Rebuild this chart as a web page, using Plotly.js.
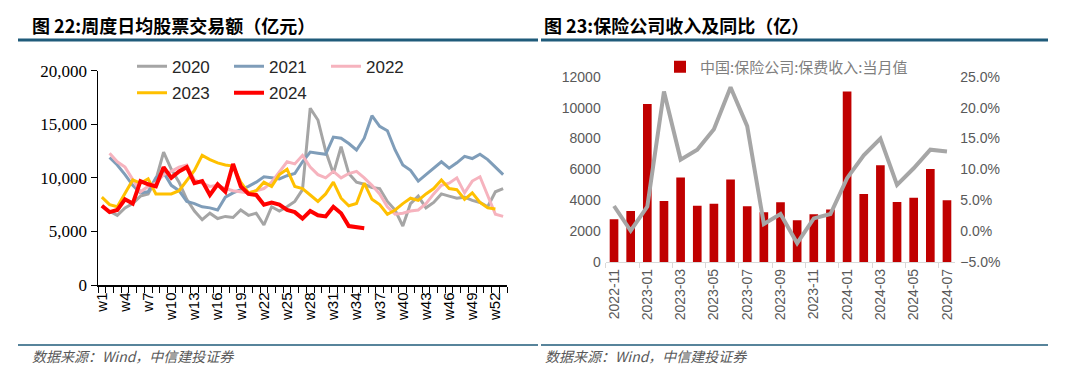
<!DOCTYPE html>
<html><head><meta charset="utf-8">
<script src="https://cdn.plot.ly/plotly-3.0.1.min.js"></script>
<style>html,body{margin:0;padding:0;background:#fff}#chart{width:1080px;height:375px}</style>
</head><body><div id="chart"></div>
<script>
// ---------- Left chart data (周度日均股票交易额, 亿元) ----------
const weekNums = [1,2,3,4,5,6,7,8,9,10,11,12,13,14,15,16,17,18,19,20,21,22,23,24,25,26,27,28,29,30,31,32,33,34,35,36,37,38,39,40,41,42,43,44,45,46,47,48,49,50,51,52,53];
const weekTickVals = [1,4,7,10,13,16,19,22,25,28,31,34,37,40,43,46,49,52];
const weekTickText = ['w1','w4','w7','w10','w13','w16','w19','w22','w25','w28','w31','w34','w37','w40','w43','w46','w49','w52'];
const y2020 = [null,6900,6500,7200,7600,8300,8500,9800,12400,10800,9600,8000,6900,6100,6700,6200,6400,6300,7000,6500,6700,5600,7300,6900,7300,7800,8900,16500,15400,12500,10400,12900,10400,9600,9400,9100,9000,7800,7000,5500,7600,8300,7200,7700,8500,8300,8100,8200,7900,7700,7300,8700,9000];
const y2021 = [null,11900,11200,10300,9300,8600,8700,10000,10500,9300,8800,7800,7600,7300,7200,7000,8200,8600,8900,9200,9600,10100,10000,9900,10200,10400,11500,12400,12300,12200,13800,13700,13200,12600,13700,15800,14800,14400,12600,11200,10700,9700,10300,10900,11500,10900,11400,12000,11800,12200,11700,11000,10300];
const y2022 = [null,12300,11500,11000,9800,8700,9200,9500,10300,10600,11000,11200,9800,9500,9200,9300,9000,8800,8700,8600,8800,9000,9600,10600,11500,11300,12100,11000,10300,10000,10600,10000,10400,10600,10000,9300,8500,7300,6600,6700,6900,7000,7600,8500,9300,9500,10000,8600,9700,10100,8300,6600,6400];
const y2023 = [8200,7500,7300,8500,9800,9500,9900,8500,8500,8500,8800,9800,10700,12100,11700,11400,11200,11100,9600,8600,8800,9600,9200,10300,10800,9200,9000,8400,7800,8500,9600,8100,7400,7600,9500,8000,7500,6600,7000,7600,8100,7900,8500,9000,9800,9000,8900,8000,8600,7700,7200,7100,null];
const y2024 = [7400,6800,7000,8000,7600,9700,9400,9200,11000,10000,10600,11000,9500,9700,8400,9400,8700,11300,9200,8500,8400,7500,7700,7500,7000,6800,6200,6900,6500,6400,7300,6700,5500,5400,5300];

// ---------- Right chart data (保险公司收入及同比, 亿) ----------
const months = ['2022-11','2022-12','2023-01','2023-02','2023-03','2023-04','2023-05','2023-06','2023-07','2023-08','2023-09','2023-10','2023-11','2023-12','2024-01','2024-02','2024-03','2024-04','2024-05','2024-06','2024-07'];
const premium = [2780,3320,10230,3960,5490,3660,3790,5360,3620,3230,3880,2720,3100,3420,11050,4420,6270,3900,4180,6030,4010];
const yoyPct = [4.1,0.1,4.0,22.6,11.6,13.2,16.5,23.3,17.0,1.2,2.8,-1.9,2.1,2.8,8.6,12.3,15.0,7.5,10.2,13.2,12.9];

const W = 1080, H = 375;
const px = v => v / W;
const py = v => 1 - v / H;

const sans = 'Liberation Sans, Arial, sans-serif';
const cjk = 'Noto Sans CJK SC, sans-serif';

function lineTrace(name, y, color, width, legend) {
  return {type:'scatter', mode:'lines', name:name, x:weekNums, y:y, xaxis:'x', yaxis:'y',
    line:{color:color, width:width}, legend:legend, connectgaps:false, hoverinfo:'skip'};
}

const traces = [
  lineTrace('2020', y2020, '#A5A5A5', 3, 'legend'),
  lineTrace('2021', y2021, '#7F9DB9', 3, 'legend'),
  lineTrace('2022', y2022, '#F6B3BE', 3, 'legend'),
  lineTrace('2023', y2023, '#FFC000', 3, 'legend2'),
  lineTrace('2024', y2024, '#FF0000', 4, 'legend2'),
  {type:'bar', name:'中国:保险公司:保费收入:当月值', x:months, y:premium, xaxis:'x2', yaxis:'y2',
    marker:{color:'#C00000'}, legend:'legend3', hoverinfo:'skip'},
  {type:'scatter', mode:'lines', name:'同比', x:months, y:yoyPct, xaxis:'x2', yaxis:'y3',
    line:{color:'#A6A6A6', width:4}, showlegend:false, hoverinfo:'skip'}
];

const layout = {
  width:W, height:H, margin:{l:0,r:0,t:0,b:0}, paper_bgcolor:'#fff', plot_bgcolor:'rgba(0,0,0,0)',
  bargap:0.48,
  xaxis:{domain:[px(98),px(507)], range:[0.5,53.5], tickmode:'array', tickvals:weekTickVals, ticktext:weekTickText,
    tickangle:-90, ticks:'outside', ticklen:0, showline:true, linecolor:'#000', linewidth:1.5,
    minor:{ticks:'outside', tickmode:'linear', tick0:0.5, dtick:1, ticklen:6, tickcolor:'#000', tickwidth:1},
    tickfont:{family:sans, size:15, color:'#000'}, showgrid:false, zeroline:false, anchor:'y', fixedrange:true},
  yaxis:{domain:[py(285),py(70.7)], range:[0,20000], dtick:5000, tickformat:',d', ticks:'outside', ticklen:6,
    tickcolor:'#000', showline:true, linecolor:'#000', linewidth:1.5, showgrid:false, zeroline:false,
    tickfont:{family:'Liberation Serif, Times New Roman, serif', size:17, color:'#000'}, anchor:'x'},
  xaxis2:{domain:[px(605.7),px(955.3)], type:'category', dtick:2, tickson:'boundaries', tickangle:-90,
    ticks:'outside', ticklen:5, tickcolor:'#D9D9D9', showline:true, linecolor:'#D9D9D9', linewidth:1,
    tickfont:{family:sans, size:14, color:'#595959'}, showgrid:false, zeroline:false, anchor:'y2'},
  yaxis2:{domain:[py(262.3),py(76.7)], range:[0,12000], dtick:2000, tickformat:'d', showline:false, ticks:'', showgrid:false,
    zeroline:false, tickfont:{family:sans, size:14, color:'#595959'}, anchor:'x2', ticklabelstandoff:4},
  yaxis3:{domain:[py(262.3),py(76.7)], range:[-5,25], dtick:5, tickformat:'.1f', ticksuffix:'%', overlaying:'y2',
    side:'right', anchor:'x2', showline:false, ticks:'', showgrid:false, zeroline:false,
    tickfont:{family:sans, size:14, color:'#595959'}, ticklabelstandoff:4},
  legend:{orientation:'h', x:px(132), y:py(66.7), xanchor:'left', yanchor:'middle', entrywidth:52, entrywidthmode:'pixels',
    font:{family:sans, size:17, color:'#262626'}, bgcolor:'rgba(0,0,0,0)', traceorder:'normal', itemclick:false},
  legend2:{orientation:'h', x:px(132), y:py(93.3), xanchor:'left', yanchor:'middle', entrywidth:52, entrywidthmode:'pixels',
    font:{family:sans, size:17, color:'#262626'}, bgcolor:'rgba(0,0,0,0)', traceorder:'normal', itemclick:false},
  legend3:{orientation:'h', x:px(660), y:py(67), xanchor:'left', yanchor:'middle',
    font:{family:cjk, size:15, color:'#7F7F7F'}, bgcolor:'rgba(0,0,0,0)', itemclick:false},
  annotations:[
    {text:'<b>图 22:周度日均股票交易额（亿元）</b>', x:px(30), y:py(25), xref:'paper', yref:'paper', xanchor:'left', yanchor:'middle',
      showarrow:false, font:{family:cjk, size:18, color:'#000'}},
    {text:'<b>图 23:保险公司收入及同比（亿）</b>', x:px(542), y:py(25), xref:'paper', yref:'paper', xanchor:'left', yanchor:'middle',
      showarrow:false, font:{family:cjk, size:18, color:'#000'}},
    {text:'<i>数据来源：Wind，中信建投证券</i>', x:px(30), y:py(356), xref:'paper', yref:'paper', xanchor:'left', yanchor:'middle',
      showarrow:false, font:{family:cjk, size:14, color:'#595959'}},
    {text:'<i>数据来源：Wind，中信建投证券</i>', x:px(543), y:py(356), xref:'paper', yref:'paper', xanchor:'left', yanchor:'middle',
      showarrow:false, font:{family:cjk, size:14, color:'#595959'}}
  ],
  shapes:[
    {type:'line', xref:'paper', yref:'paper', x0:px(18), x1:px(538), y0:py(40), y1:py(40), line:{color:'#1F5B7A', width:3}},
    {type:'line', xref:'paper', yref:'paper', x0:px(541), x1:px(1048), y0:py(40), y1:py(40), line:{color:'#1F5B7A', width:3}},
    {type:'line', xref:'paper', yref:'paper', x0:px(18), x1:px(538), y0:py(345), y1:py(345), line:{color:'#1F5B7A', width:1.5}},
    {type:'line', xref:'paper', yref:'paper', x0:px(541), x1:px(1048), y0:py(345), y1:py(345), line:{color:'#1F5B7A', width:1.5}}
  ]
};

Plotly.newPlot('chart', traces, layout, {staticPlot:true, displayModeBar:false});
</script></body></html>
